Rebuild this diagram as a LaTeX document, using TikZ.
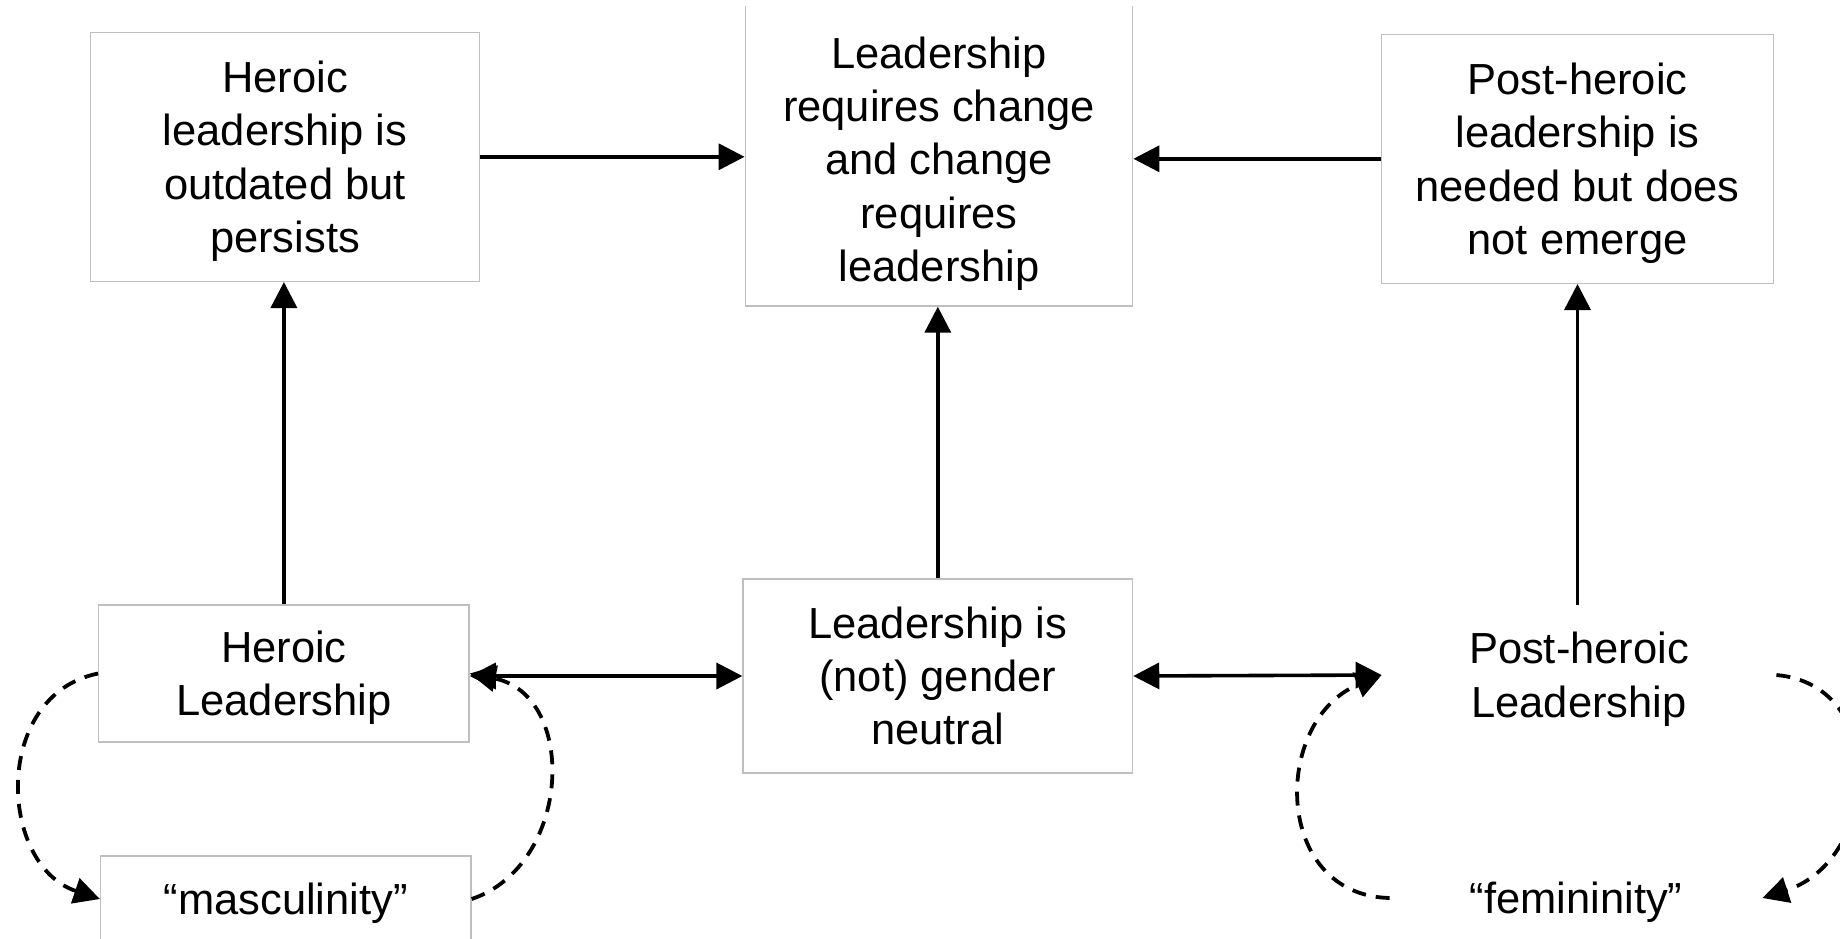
\documentclass[tikz,border=0pt]{standalone}
\usepackage{fontspec}
\setmainfont{Liberation Sans}
\usetikzlibrary{arrows.meta}

\definecolor{boxgray}{RGB}{191,191,191}
% struts that keep every label centred on its cap-height midline
\newcommand\firstln{\rule{0pt}{0.926em}}
\newcommand\lastln{\rule[-0.21em]{0pt}{0pt}}

\begin{document}
\begin{tikzpicture}[x=0.5pt,y=-0.5pt]
\tikzset{
  txt/.style={align=center, inner sep=0pt,
    font=\fontsize{21.75pt}{26.65pt}\selectfont},
  box/.style={txt, draw=boxgray, line width=0.7pt},
  frame/.style={draw=boxgray, line width=0.7pt, inner sep=0pt},
  link/.style={line width=1.8pt, -{Triangle[length=13pt,width=13pt]}},
  twoway/.style={line width=1.8pt,
    {Triangle[length=13pt,width=13pt]}-{Triangle[length=13pt,width=13pt]}},
  cycle/.style={line width=1.9pt, dash pattern=on 7pt off 5pt,
    -{Triangle[length=13pt,width=13pt]}}
}
\useasboundingbox (0,0) rectangle (1840,938);
\clip (0,6.7) rectangle (1840,938);

% upper row
\node[box, minimum width=194.7pt, minimum height=124.5pt] (hoo) at (285,156.8)
  {\firstln Heroic\\leadership is\\outdated but\\persists\lastln};
\node[frame, minimum width=193.7pt, minimum height=158pt] (ctbox) at (939,148) {};
\node[txt] (ctext) at (939,159.2)
  {\firstln Leadership\\requires change\\and change\\requires\\leadership\lastln};
\node[box, minimum width=195.8pt, minimum height=124.5pt] (pon) at (1577.5,158.8)
  {\firstln Post-heroic\\leadership is\\needed but does\\not emerge\lastln};

% lower row
\node[box, minimum width=185.15pt, minimum height=68.5pt] (hl) at (283.9,673.5)
  {\firstln Heroic\\Leadership\lastln};
\node[box, minimum width=194.75pt, minimum height=97pt] (gn) at (937.8,676)
  {\firstln Leadership is\\(not) gender\\neutral\lastln};
\node[txt, minimum width=197pt, minimum height=70pt] (phl) at (1579,675)
  {\firstln Post-heroic\\Leadership\lastln};

% bottom labels
\node[box, minimum width=185.2pt, minimum height=43pt] (masc) at (285.8,899)
  {\firstln“masculinity”\lastln};
\node[txt, minimum width=186pt, minimum height=43pt] (fem) at (1576,898)
  {\firstln“femininity”\lastln};

% solid connectors
\draw[link] (hl.north) -- (hl.north |- hoo.south);
\draw[link] (gn.north) -- (gn.north |- ctbox.south);
\draw[link] (pon.south |- phl.north) -- (pon.south);
\draw[link] (hoo.east) -- (hoo.east -| ctbox.west);
\draw[link] (pon.west) -- (pon.west -| ctbox.east);
\draw[twoway] (gn.west -| hl.east) -- (gn.west);
\draw[twoway] (gn.east) -- (phl.west);

% dashed feedback loops
\draw[cycle] (hl.west) .. controls (-8,695) and (-2,865) .. (masc.west);
\draw[cycle] (masc.east) .. controls (572,865) and (578,695) .. (hl.east);
\draw[cycle] (fem.west) .. controls (1272,895) and (1272,720) .. (phl.west);
\draw[cycle] (phl.east) .. controls (1890,685) and (1880,860) .. (fem.east);
\end{tikzpicture}
\end{document}
